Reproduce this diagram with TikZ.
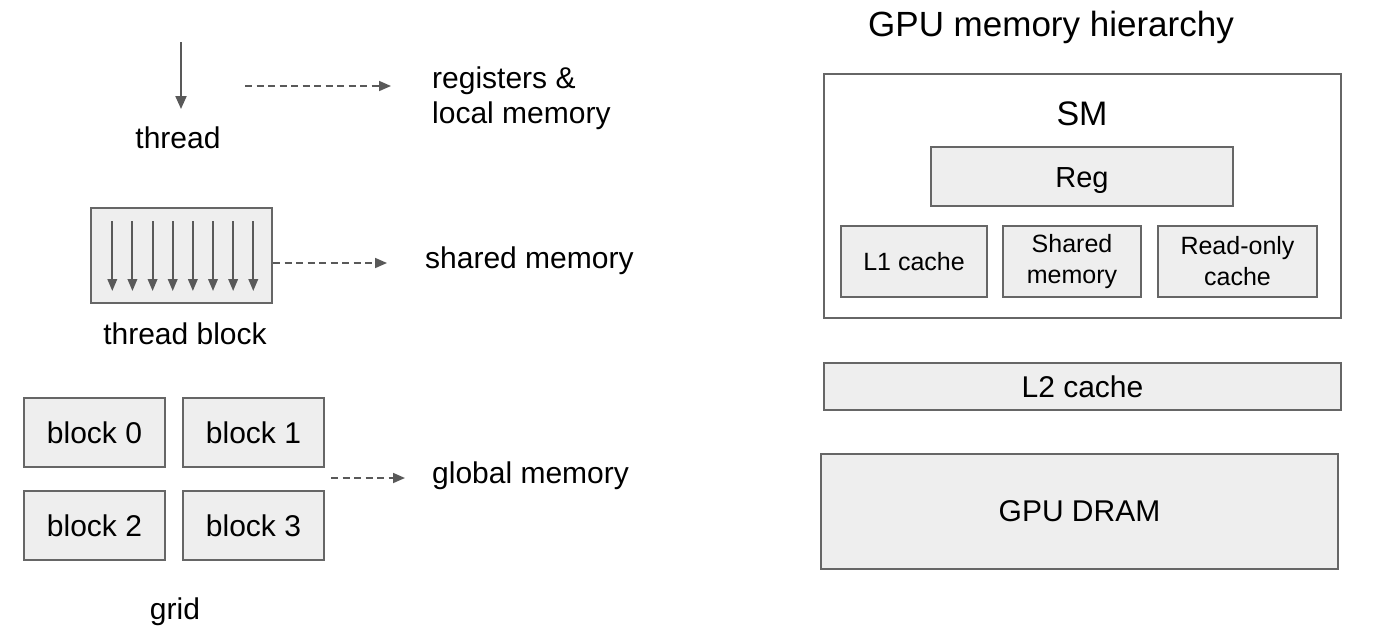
\documentclass[tikz,border=0pt]{standalone}
\usepackage{fontspec}
\setmainfont{Liberation Sans}
\usetikzlibrary{arrows.meta}
\definecolor{edgegray}{HTML}{666666}
\definecolor{boxfill}{HTML}{EEEEEE}
\definecolor{arrowgray}{HTML}{595959}
\tikzset{
  box/.style={draw=edgegray, fill=boxfill, line width=2pt, inner sep=0pt},
  frame/.style={draw=edgegray, fill=white, line width=2pt, inner sep=0pt},
  bigtext/.style={font=\fontsize{30}{35}\selectfont},
  smalltext/.style={font=\fontsize{25}{31}\selectfont},
  lbl/.style={inner sep=0pt, bigtext},
  solidarrow/.style={draw=arrowgray, line width=2pt, -{Triangle[length=13pt,width=11pt]}},
  smallarrow/.style={draw=arrowgray, line width=2pt, -{Triangle[length=12pt,width=9.5pt]}},
  dasharrow/.style={draw=arrowgray, line width=1.7pt, dash pattern=on 7pt off 4.5pt, -{Triangle[length=12pt,width=10pt]}},
}
\begin{document}
\begin{tikzpicture}[x=1pt,y=-1pt]
\useasboundingbox (0,0) rectangle (1398,638);

% ---------- left: thread ----------
\coordinate (t0) at (181,42);
\coordinate (t1) at (181,109);
\draw[solidarrow] (t0) -- (t1);
\node[lbl, anchor=base] (thread) at (178,148) {thread};
\coordinate (d1a) at (245,86);
\coordinate (d1b) at (391,86);
\draw[dasharrow] (d1a) -- (d1b);
\node[lbl, anchor=north west, align=left] (regs) at (432,66.5) {registers \&\\local memory};

% ---------- thread block ----------
\node[box, minimum width=181pt, minimum height=95pt] (tb) at (181.5,255.5) {};
\foreach \i in {0,...,7}{
  \coordinate (ba\i) at ({112.3+20.14*\i},221);
  \coordinate (bb\i) at ({112.3+20.14*\i},291);
  \draw[smallarrow] (ba\i) -- (bb\i);
}
\coordinate (d2b) at (387,263);
\draw[dasharrow] (tb.east |- d2b) -- (d2b);
\node[lbl, anchor=base west] (shm) at (425,268) {shared memory};
\node[lbl, anchor=base] (tblbl) at (185,344) {thread block};

% ---------- grid ----------
\node[box, bigtext, minimum width=141pt, minimum height=69pt] (b0) at (94.5,432.5) {block 0};
\node[box, bigtext, minimum width=141pt, minimum height=69pt] (b1) at (253.5,432.5) {block 1};
\node[box, bigtext, minimum width=141pt, minimum height=69pt] (b2) at (94.5,525.5) {block 2};
\node[box, bigtext, minimum width=141pt, minimum height=69pt] (b3) at (253.5,525.5) {block 3};
\coordinate (d3a) at (331,478);
\coordinate (d3b) at (405,478);
\draw[dasharrow] (d3a) -- (d3b);
\node[lbl, anchor=base west] (glm) at (432,483) {global memory};
\node[lbl, anchor=base] (grid) at (175,619) {grid};

% ---------- right: hierarchy ----------
\node[inner sep=0pt, anchor=base, font=\fontsize{35}{40}\selectfont] (title) at (1051,36) {GPU memory hierarchy};
\node[frame, minimum width=517pt, minimum height=244pt] (sm) at (1082.5,196) {};
\node[inner sep=0pt, anchor=base, font=\fontsize{34}{40}\selectfont] (smlbl) at (1082,125) {SM};
\node[box, font=\fontsize{29}{34}\selectfont, text depth=0pt, minimum width=302pt, minimum height=59pt] (reg) at (1082,176.5) {\raisebox{-2pt}{Reg}};
\node[box, smalltext, minimum width=146pt, minimum height=71pt] (l1) at (914,261.5) {L1 cache};
\node[box, smalltext, align=center, minimum width=138pt, minimum height=71pt] (shared) at (1072,261.5) {Shared\\memory};
\node[box, smalltext, align=center, minimum width=159pt, minimum height=71pt] (ro) at (1237.5,261.5) {Read-only\\cache};
\node[box, bigtext, minimum width=517pt, minimum height=47pt] (l2) at (1082.5,386.5) {L2 cache};
\node[box, bigtext, minimum width=517pt, minimum height=115pt] (dram) at (1079.5,511.5) {GPU DRAM};
\end{tikzpicture}
\end{document}
